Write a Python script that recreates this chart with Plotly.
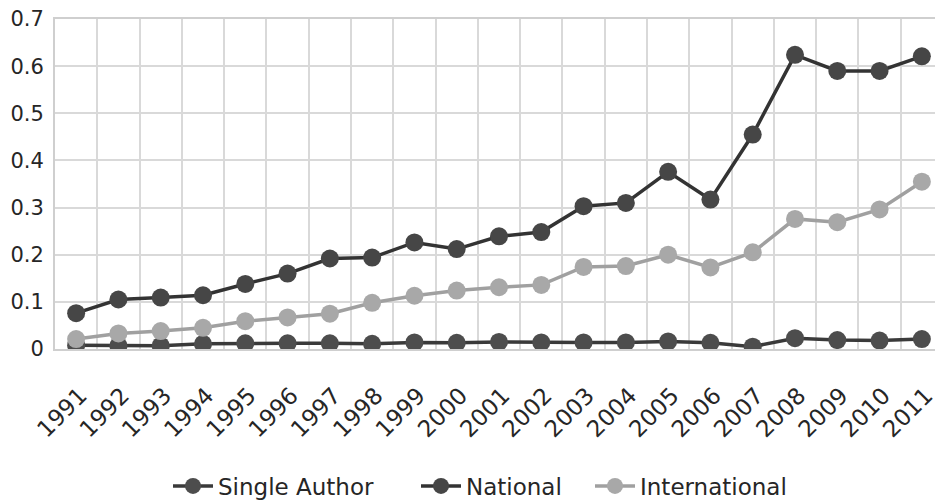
import plotly.graph_objects as go

years = [str(y) for y in range(1991, 2012)]
single_author = [0.008, 0.007, 0.007, 0.011, 0.012, 0.012, 0.012, 0.011, 0.014, 0.013, 0.015, 0.014,
                 0.014, 0.014, 0.016, 0.013, 0.005, 0.023, 0.019, 0.018, 0.021]
national = [0.076, 0.105, 0.109, 0.114, 0.138, 0.160, 0.192, 0.194, 0.226, 0.212, 0.239, 0.248,
            0.303, 0.310, 0.376, 0.317, 0.455, 0.624, 0.590, 0.590, 0.621]
international = [0.021, 0.033, 0.038, 0.045, 0.059, 0.067, 0.075, 0.098, 0.113, 0.124, 0.131, 0.136,
                 0.174, 0.176, 0.200, 0.173, 0.205, 0.276, 0.269, 0.296, 0.355]
y_ticks = [0, 0.1, 0.2, 0.3, 0.4, 0.5, 0.6, 0.7]
y_labels = ["0", "0.1", "0.2", "0.3", "0.4", "0.5", "0.6", "0.7"]

series = [
    ("Single Author", single_author, "#4d4d4d", "#3a3a3a", "legend"),
    ("National", national, "#464646", "#333333", "legend2"),
    ("International", international, "#a8a8a8", "#a0a0a0", "legend3"),
]

fig = go.Figure()
for name, vals, mcol, lcol, leg in series:
    fig.add_trace(go.Scatter(
        x=years, y=vals, name=name, mode="lines+markers", legend=leg,
        line=dict(color=lcol, width=3.5),
        marker=dict(color=mcol, size=18, line=dict(width=0)),
    ))

FONT = "DejaVu Sans"
W, H = 935, 493
leg_common = dict(orientation="h", xref="container", yref="container", xanchor="left",
                  yanchor="middle", y=1 - (486 - 8) / H,
                  font=dict(family=FONT, size=23, color="#262626"), itemwidth=40,
                  bgcolor="rgba(0,0,0,0)")
# marker centres (page px) of the three legend items
leg_x = [198, 446, 620]

fig.update_layout(
    width=W, height=H,
    margin=dict(l=47, r=0, t=11, b=152),
    paper_bgcolor="white", plot_bgcolor="white",
    font=dict(family=FONT, size=22, color="#262626"),
    showlegend=True,
    legend=dict(leg_common, x=(leg_x[0] - 30 - 8) / W),
    legend2=dict(leg_common, x=(leg_x[1] - 30 - 8) / W),
    legend3=dict(leg_common, x=(leg_x[2] - 30 - 8) / W),
)
fig.update_xaxes(
    type="category", range=[-0.5, len(years) - 0.5], tickson="boundaries", tickangle=-45,
    automargin=False,
    showgrid=True, gridcolor="#d9d9d9", gridwidth=2,
    showline=True, linecolor="#cfcfcf", linewidth=2, mirror=True,
    ticks="", ticklabelstandoff=22, ticklabelshift=4,
    tickfont=dict(family=FONT, size=23, color="#262626"),
)
fig.update_yaxes(
    range=[0, 0.7001], tickvals=y_ticks, ticktext=y_labels, automargin=False,
    showgrid=True, gridcolor="#d9d9d9", gridwidth=2, zeroline=False,
    showline=True, linecolor="#cfcfcf", linewidth=2, mirror=True,
    ticks="", ticklabelstandoff=5, ticklabeloverflow="allow",
    tickfont=dict(family=FONT, size=21, color="#262626"),
)

fig.write_html("out.html")
